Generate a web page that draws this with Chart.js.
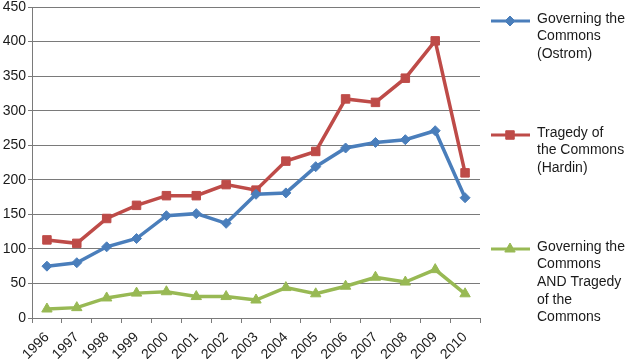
<!DOCTYPE html>
<html><head><meta charset="utf-8">
<script src="https://cdn.jsdelivr.net/npm/chart.js@4/dist/chart.umd.min.js"></script>
<style>html,body{margin:0;padding:0;background:#fff;}#wrap{width:627px;height:359px;position:relative;}</style>
</head><body><div id="wrap"><canvas id="c" width="627" height="359"></canvas></div>
<script>
const years = ['1996','1997','1998','1999','2000','2001','2002','2003','2004','2005','2006','2007','2008','2009','2010'];
const ostrom = [75, 80, 103, 115, 148, 151, 137, 179, 181, 219, 246, 254, 258, 271, 174];
const hardin = [113, 108, 144, 163, 177, 177, 193, 185, 227, 241, 317, 312, 347, 401, 210];
const both = [13, 15, 29, 36, 38, 31, 31, 26, 44, 35, 46, 59, 52, 70, 35];
const seriesNames = [
  ['Governing the', 'Commons', '(Ostrom)'],
  ['Tragedy of', 'the Commons', '(Hardin)'],
  ['Governing the', 'Commons', 'AND Tragedy', 'of the', 'Commons']
];
const yTicks = [0, 50, 100, 150, 200, 250, 300, 350, 400, 450];

const FONT = 'Liberation Sans, Arial, sans-serif';
const legendPlugin = {
  id: 'sideLegend',
  afterDraw(chart) {
    const ctx = chart.ctx;
    const rows = [21, 135, 249];
    ctx.save();
    chart.data.datasets.forEach((ds, i) => {
      const y = rows[i];
      ctx.strokeStyle = ds.borderColor;
      ctx.lineWidth = 3;
      ctx.beginPath(); ctx.moveTo(491, y); ctx.lineTo(530, y); ctx.stroke();
      ctx.fillStyle = ds.borderColor;
      ctx.strokeStyle = ds.borderColor;
      ctx.lineWidth = 1;
      Chart.helpers.drawPoint(ctx, {pointStyle: ds.pointStyle, radius: ds.pointRadius, borderWidth: 1}, 510, y);
      ctx.fillStyle = '#1a1a1a';
      ctx.font = '14px ' + FONT;
      ctx.textBaseline = 'middle';
      ctx.textAlign = 'left';
      ds.label.forEach((t, k) => ctx.fillText(t, 537, y - 2 + k * 17.6));
    });
    ctx.restore();
  }
};

new Chart(document.getElementById('c'), {
  type: 'line',
  data: {
    labels: years,
    datasets: [
      {label: seriesNames[0], data: ostrom, borderColor: '#4a7ebb', backgroundColor: '#4a7ebb', borderWidth: 3.5, pointStyle: 'rectRot', pointRadius: 5, pointBorderWidth: 1, tension: 0},
      {label: seriesNames[1], data: hardin, borderColor: '#be4b48', backgroundColor: '#be4b48', borderWidth: 3.5, pointStyle: 'rect', pointRadius: 6, pointBorderWidth: 1, tension: 0},
      {label: seriesNames[2], data: both, borderColor: '#98b954', backgroundColor: '#98b954', borderWidth: 3.5, pointStyle: 'triangle', pointRadius: 6, pointBorderWidth: 1, tension: 0}
    ]
  },
  options: {
    responsive: false,
    animation: false,
    devicePixelRatio: 1,
    layout: {padding: {top: 0, right: 147, left: 0, bottom: 0}},
    plugins: {legend: {display: false}, tooltip: {enabled: false}},
    scales: {
      x: {
        offset: true,
        grid: {display: true, drawOnChartArea: false, drawTicks: true, tickLength: 5, offset: true, color: '#7a7a7a'},
        border: {color: '#7a7a7a', width: 1},
        ticks: {font: {family: FONT, size: 14}, color: '#1a1a1a', maxRotation: 45, minRotation: 45, padding: 6, autoSkip: false},
        afterFit(s) { s.height = 41; s.paddingLeft = 0; s.paddingRight = 0; }
      },
      y: {
        min: 0, max: 450,
        afterBuildTicks(s) { s.ticks = yTicks.map(v => ({value: v})); },
        grid: {color: '#7a7a7a', lineWidth: 1, drawTicks: true, tickLength: 4},
        border: {color: '#7a7a7a', width: 1},
        ticks: {font: {family: FONT, size: 14, lineHeight: 0.7}, color: '#1a1a1a', padding: 2},
        afterFit(s) { s.width = 32; s.paddingTop = 0; s.paddingBottom = 0; }
      }
    }
  },
  plugins: [legendPlugin]
});
</script></body></html>
